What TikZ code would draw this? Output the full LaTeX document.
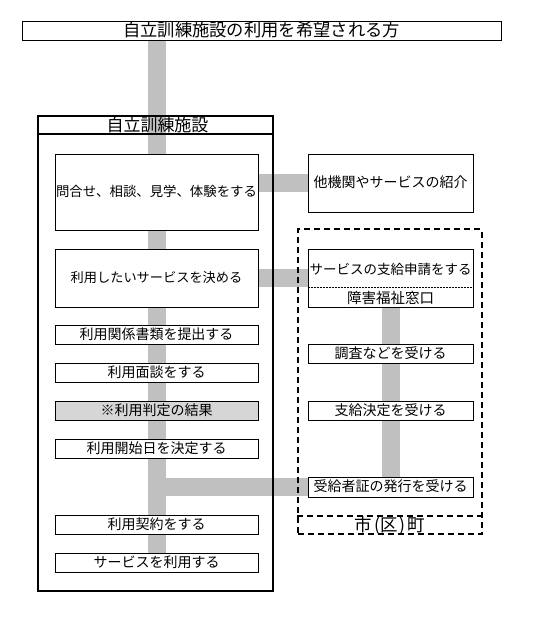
\documentclass[tikz,border=0pt]{standalone}
\usepackage{fontspec}
\setmainfont{Noto Sans CJK JP}
\usetikzlibrary{backgrounds}
\definecolor{linkgray}{HTML}{C0C0C0}
\definecolor{judgegray}{HTML}{D6D6D6}
\begin{document}
\begin{tikzpicture}[x=1pt,y=-1pt,
  box/.style={draw=black, line width=1pt, fill=white, inner sep=0pt,
    font=\fontsize{14}{16}\selectfont, text height=11pt, text depth=1.5pt},
  conn/.style={draw=linkgray, line width=18pt},
  citydash/.style={line width=2pt, dash pattern=on 6pt off 4pt},
  titletext/.style={inner sep=0pt, font=\fontsize{17}{19}\selectfont},
]
\useasboundingbox (0,0) rectangle (540,638);

% top box
\node[box, minimum width=479pt, minimum height=19pt, font=\fontsize{17.3}{19}\selectfont, text height=13pt, text depth=2pt] (top) at (261.5,30.5) {自立訓練施設の利用を希望される方};

% facility frame
\node[draw, line width=2.5pt, minimum width=235pt, minimum height=475pt, inner sep=0pt] (fac) at (155.5,353.5) {};
\draw[line width=2.5pt] ([yshift=-19pt]fac.north west) -- ([yshift=-19pt]fac.north east);
\node[titletext] (factitle) at (157.5,125.5) {自立訓練施設};

% left steps
\node[box, minimum width=203pt, minimum height=76pt, font=\fontsize{13.4}{15}\selectfont] (b1) at (156.5,192) {問合せ、相談、見学、体験をする};
\node[box, minimum width=203pt, minimum height=58pt, font=\fontsize{13.2}{15}\selectfont] (b2) at (156.5,278) {利用したいサービスを決める};
\node[box, minimum width=203pt, minimum height=19pt] (b3) at (156.5,335) {利用関係書類を提出する};
\node[box, minimum width=203pt, minimum height=19pt] (b4) at (156.5,372.5) {利用面談をする};
\node[box, minimum width=203pt, minimum height=19pt, fill=judgegray] (b5) at (156.5,411) {※利用判定の結果};
\node[box, minimum width=203pt, minimum height=19pt] (b6) at (156.5,448.5) {利用開始日を決定する};
\node[box, minimum width=203pt, minimum height=19pt] (b7) at (156.5,525) {利用契約をする};
\node[box, minimum width=203pt, minimum height=19pt] (b8) at (156.5,562.5) {サービスを利用する};

% other agencies
\node[box, minimum width=165pt, minimum height=58pt] (other) at (390.5,183) {他機関やサービスの紹介};

% city frame
\node[draw, citydash, minimum width=183.5pt, minimum height=305pt, inner sep=0pt] (city) at (389.75,381.5) {};
\draw[citydash] ([yshift=19pt]city.south west) -- ([yshift=19pt]city.south east);
\node[inner sep=0pt, font=\fontsize{17.5}{19}\selectfont] (citytext) at (389.75,525.5) {市\hspace{2pt}(\hspace{1pt}区\hspace{1pt})\hspace{2pt}町};

% right steps
\node[box, minimum width=165pt, minimum height=58pt] (r1) at (390.5,278) {};
\draw[line width=0.8pt, dash pattern=on 2pt off 1pt] ([yshift=-39pt]r1.north west) -- ([yshift=-39pt]r1.north east);
\node[inner sep=0pt, font=\fontsize{13.5}{15}\selectfont] (r1a) at (390.5,269) {サービスの支給申請をする};
\node[inner sep=0pt, font=\fontsize{14.5}{16}\selectfont] (r1b) at (390.5,297.5) {障害福祉窓口};
\node[box, minimum width=165pt, minimum height=19pt] (r2) at (390.5,353.5) {調査などを受ける};
\node[box, minimum width=165pt, minimum height=19pt] (r3) at (390.5,411) {支給決定を受ける};
\node[box, minimum width=165pt, minimum height=20pt] (r4) at (390.5,487) {受給者証の発行を受ける};

% background and connectors
\begin{scope}[on background layer]
\fill[white] (0,0) rectangle (540,638);
\draw[conn] (b1.north |- top.south) -- (b8.north);
\draw[conn] (b1.east |- other.west) -- (other.west);
\draw[conn] (b2.east) -- (b2.east -| r1.west);
\draw[conn] (r1.south) -- (r4.north);
\draw[conn] (r4.west) -- (r4.west -| b1.center);
\end{scope}
\end{tikzpicture}
\end{document}
